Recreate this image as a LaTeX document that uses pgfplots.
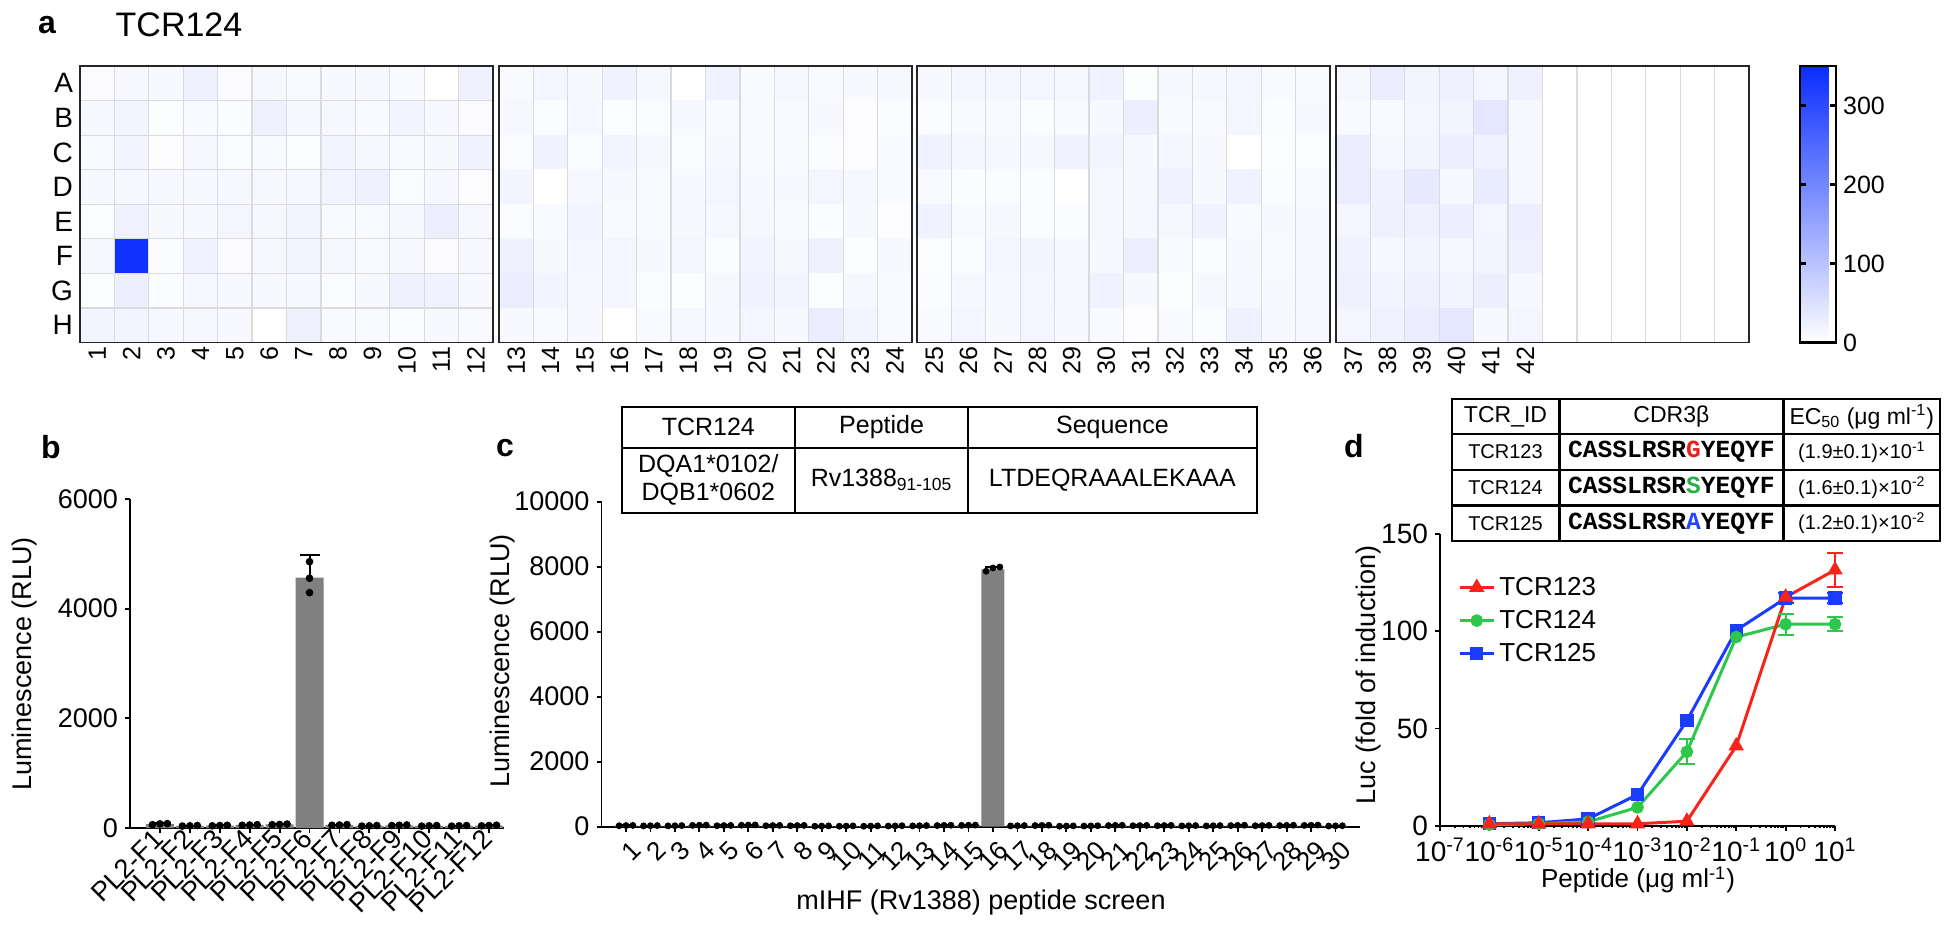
\documentclass[border=0pt]{standalone}
\usepackage{pgfplots}
\pgfplotsset{compat=1.18}
\usepackage{fontspec}
\setmainfont{Liberation Sans}
\newfontfamily\seqfont{Liberation Mono}
\newcommand{\fs}[1]{\fontsize{#1pt}{#1pt}\selectfont}
\definecolor{bargray}{RGB}{128,128,128}
\definecolor{tred}{RGB}{250,35,25}
\definecolor{tgreen}{RGB}{45,200,75}
\definecolor{tblue}{RGB}{25,60,255}
\definecolor{sred}{RGB}{235,30,30}
\definecolor{sgreen}{RGB}{40,175,70}
\definecolor{sblue}{RGB}{35,70,255}
\pgfplotsset{
  hm/.style={
    anchor=north west, scale only axis, width=206.5pt, height=138.25pt,
    y dir=reverse, ymin=0.5, ymax=8.5,
    colormap={tcr}{rgb255=(255,255,255) rgb255=(10,45,255)},
    point meta min=0, point meta max=350,
    axis on top, axis line style={line width=0.9pt, black!85},
    major tick length=0pt, minor tick length=0pt,
    minor ytick={1.5,2.5,...,7.5},
    grid=minor, minor grid style={black!14, line width=0.6pt},
    xticklabel style={rotate=90, anchor=east, font=\fs{12.5}, inner sep=2pt},
    yticklabel style={font=\fs{14}},
    /pgf/number format/assume math mode=true,
  },
  hmplot/.style={matrix plot*, point meta=explicit},
  bc/.style={
    anchor=south west, scale only axis,
    axis x line*=bottom, axis y line*=left, axis line style={line width=0.9pt},
    tick align=outside, major tick length=2.5pt, tick style={line width=0.9pt, black},
    ymin=0, scaled y ticks=false,
    yticklabel style={font=\fs{13.5}},
    /pgf/number format/assume math mode=true, /pgf/number format/1000 sep={},
  },
}
\begin{document}
\begin{tikzpicture}
\useasboundingbox (0,0) rectangle (975pt,-465pt);
% ---------------- panel a
\node[font=\fs{16}\bfseries] at (23.5pt,-12.5pt) {a};
\node[font=\fs{17}] at (89.5pt,-12.5pt) {TCR124};
\begin{axis}[hm, at={(40pt,-33pt)}, xmin=0.5, xmax=12.5, xtick={1,...,12},
  minor xtick={1.5,2.5,...,11.5}, ytick={1,...,8}, yticklabels={A,B,C,D,E,F,G,H}]
\addplot[hmplot, mesh/cols=12] coordinates {
(1,1)[6] (2,1)[13] (3,1)[10] (4,1)[23] (5,1)[6] (6,1)[13] (7,1)[8] (8,1)[10] (9,1)[13] (10,1)[8] (11,1)[0] (12,1)[23]
(1,2)[13] (2,2)[18] (3,2)[4] (4,2)[8] (5,2)[5] (6,2)[23] (7,2)[10] (8,2)[13] (9,2)[8] (10,2)[18] (11,2)[13] (12,2)[6]
(1,3)[8] (2,3)[18] (3,3)[3] (4,3)[13] (5,3)[5] (6,3)[8] (7,3)[4] (8,3)[18] (9,3)[13] (10,3)[8] (11,3)[10] (12,3)[21]
(1,4)[10] (2,4)[13] (3,4)[13] (4,4)[10] (5,4)[13] (6,4)[13] (7,4)[13] (8,4)[18] (9,4)[23] (10,4)[5] (11,4)[13] (12,4)[3]
(1,5)[4] (2,5)[21] (3,5)[10] (4,5)[10] (5,5)[16] (6,5)[13] (7,5)[18] (8,5)[8] (9,5)[8] (10,5)[13] (11,5)[26] (12,5)[13]
(1,6)[13] (2,6)[340] (3,6)[5] (4,6)[21] (5,6)[6] (6,6)[13] (7,6)[18] (8,6)[13] (9,6)[8] (10,6)[13] (11,6)[6] (12,6)[13]
(1,7)[4] (2,7)[26] (3,7)[5] (4,7)[13] (5,7)[10] (6,7)[13] (7,7)[10] (8,7)[5] (9,7)[10] (10,7)[23] (11,7)[21] (12,7)[10]
(1,8)[18] (2,8)[18] (3,8)[13] (4,8)[13] (5,8)[10] (6,8)[0] (7,8)[23] (8,8)[8] (9,8)[8] (10,8)[5] (11,8)[10] (12,8)[8]
};
\end{axis}
\begin{axis}[hm, at={(249.5pt,-33pt)}, xmin=12.5, xmax=24.5, xtick={13,...,24},
  minor xtick={13.5,14.5,...,23.5}, ytick=\empty]
\addplot[hmplot, mesh/cols=12] coordinates {
(13,1)[8] (14,1)[16] (15,1)[10] (16,1)[21] (17,1)[13] (18,1)[0] (19,1)[21] (20,1)[8] (21,1)[13] (22,1)[8] (23,1)[10] (24,1)[13]
(13,2)[13] (14,2)[5] (15,2)[13] (16,2)[4] (17,2)[5] (18,2)[10] (19,2)[8] (20,2)[8] (21,2)[8] (22,2)[10] (23,2)[3] (24,2)[5]
(13,3)[5] (14,3)[21] (15,3)[5] (16,3)[18] (17,3)[13] (18,3)[5] (19,3)[13] (20,3)[8] (21,3)[8] (22,3)[5] (23,3)[3] (24,3)[8]
(13,4)[18] (14,4)[0] (15,4)[13] (16,4)[10] (17,4)[8] (18,4)[10] (19,4)[16] (20,4)[10] (21,4)[10] (22,4)[16] (23,4)[13] (24,4)[8]
(13,5)[5] (14,5)[8] (15,5)[18] (16,5)[8] (17,5)[8] (18,5)[10] (19,5)[13] (20,5)[13] (21,5)[8] (22,5)[5] (23,5)[10] (24,5)[3]
(13,6)[23] (14,6)[10] (15,6)[16] (16,6)[16] (17,6)[10] (18,6)[16] (19,6)[5] (20,6)[18] (21,6)[10] (22,6)[23] (23,6)[4] (24,6)[10]
(13,7)[29] (14,7)[18] (15,7)[13] (16,7)[16] (17,7)[5] (18,7)[4] (19,7)[13] (20,7)[21] (21,7)[18] (22,7)[4] (23,7)[13] (24,7)[8]
(13,8)[10] (14,8)[8] (15,8)[10] (16,8)[0] (17,8)[8] (18,8)[13] (19,8)[10] (20,8)[16] (21,8)[10] (22,8)[29] (23,8)[18] (24,8)[8]
};
\end{axis}
\begin{axis}[hm, at={(458.5pt,-33pt)}, xmin=24.5, xmax=36.5, xtick={25,...,36},
  minor xtick={25.5,26.5,...,35.5}, ytick=\empty]
\addplot[hmplot, mesh/cols=12] coordinates {
(25,1)[10] (26,1)[16] (27,1)[16] (28,1)[16] (29,1)[13] (30,1)[21] (31,1)[4] (32,1)[10] (33,1)[13] (34,1)[16] (35,1)[8] (36,1)[8]
(25,2)[5] (26,2)[8] (27,2)[8] (28,2)[5] (29,2)[8] (30,2)[10] (31,2)[26] (32,2)[8] (33,2)[8] (34,2)[16] (35,2)[5] (36,2)[10]
(25,3)[21] (26,3)[16] (27,3)[13] (28,3)[13] (29,3)[21] (30,3)[18] (31,3)[10] (32,3)[16] (33,3)[13] (34,3)[0] (35,3)[4] (36,3)[4]
(25,4)[8] (26,4)[5] (27,4)[5] (28,4)[5] (29,4)[1] (30,4)[13] (31,4)[13] (32,4)[21] (33,4)[10] (34,4)[21] (35,4)[5] (36,4)[8]
(25,5)[21] (26,5)[8] (27,5)[13] (28,5)[5] (29,5)[5] (30,5)[13] (31,5)[13] (32,5)[13] (33,5)[21] (34,5)[8] (35,5)[10] (36,5)[10]
(25,6)[4] (26,6)[5] (27,6)[16] (28,6)[18] (29,6)[10] (30,6)[10] (31,6)[26] (32,6)[8] (33,6)[5] (34,6)[10] (35,6)[8] (36,6)[10]
(25,7)[5] (26,7)[13] (27,7)[13] (28,7)[16] (29,7)[13] (30,7)[21] (31,7)[10] (32,7)[4] (33,7)[13] (34,7)[13] (35,7)[10] (36,7)[13]
(25,8)[8] (26,8)[16] (27,8)[10] (28,8)[16] (29,8)[10] (30,8)[8] (31,8)[3] (32,8)[8] (33,8)[5] (34,8)[23] (35,8)[13] (36,8)[13]
};
\end{axis}
\begin{axis}[hm, at={(668pt,-33pt)}, xmin=36.5, xmax=48.5, xtick={37,...,42},
  minor xtick={37.5,38.5,...,47.5}, ytick=\empty,
  colorbar, colorbar style={
    at={(parent axis.north east)}, anchor=north west, xshift=17pt,
    width=18pt, scale only axis,
    ytick={0,100,200,300}, yticklabel style={font=\fs{12.5}},
    tick align=inside, ytick pos=both, yticklabel pos=right,
    major tick length=3pt, tick style={line width=1.2pt, black},
    axis line style={line width=1.4pt, black},
    /pgf/number format/assume math mode=true,
  }]
\addplot[hmplot, mesh/cols=6] coordinates {
(37,1)[13] (38,1)[29] (39,1)[18] (40,1)[23] (41,1)[16] (42,1)[23]
(37,2)[8] (38,2)[8] (39,2)[16] (40,2)[18] (41,2)[39] (42,2)[13]
(37,3)[29] (38,3)[13] (39,3)[18] (40,3)[26] (41,3)[21] (42,3)[13]
(37,4)[29] (38,4)[21] (39,4)[36] (40,4)[10] (41,4)[31] (42,4)[13]
(37,5)[16] (38,5)[23] (39,5)[23] (40,5)[26] (41,5)[16] (42,5)[26]
(37,6)[21] (38,6)[13] (39,6)[18] (40,6)[13] (41,6)[18] (42,6)[23]
(37,7)[23] (38,7)[18] (39,7)[23] (40,7)[18] (41,7)[26] (42,7)[13]
(37,8)[16] (38,8)[21] (39,8)[29] (40,8)[39] (41,8)[10] (42,8)[16]
};
\end{axis}
% ---------------- panel b
\node[font=\fs{16}\bfseries] at (25.5pt,-223.5pt) {b};
\node[rotate=90, font=\fs{13.5}] at (12.5pt,-332pt) {Luminescence (RLU)};
\begin{axis}[bc, at={(65pt,-414pt)}, width=187pt, height=164.5pt,
  xmin=0, xmax=12.5, ymax=6000, ytick={0,2000,4000,6000}, xtick={1,...,12},
  xticklabels={PL2-F1,PL2-F2,PL2-F3,PL2-F4,PL2-F5,PL2-F6,PL2-F7,PL2-F8,PL2-F9,PL2-F10,PL2-F11,PL2-F12},
  xticklabel style={rotate=45, anchor=east, font=\fs{13.5}, inner sep=1pt}]
\addplot[ybar, bar width=14pt, fill=bargray, draw=none,
  error bars/.cd, y dir=plus, y explicit,
  error bar style={line width=1pt, black},
  error mark options={rotate=90, mark size=5pt, line width=1pt, black}]
coordinates {(1,70)+-(0,15) (2,40)+-(0,5) (3,45)+-(0,5) (4,55)+-(0,8) (5,65)+-(0,8) (6,4568)+-(0,416)
(7,55)+-(0,6) (8,40)+-(0,5) (9,50)+-(0,6) (10,40)+-(0,5) (11,40)+-(0,5) (12,45)+-(0,6)};
\addplot[only marks, mark=*, mark size=1.7pt, black] coordinates {
(0.75,60)(1,75)(1.25,80) (1.75,35)(2,40)(2.25,45) (2.75,40)(3,45)(3.25,50) (3.75,50)(4,55)(4.25,60)
(4.75,60)(5,65)(5.25,72) (6,4857)(6,4293)(6,4555) (6.75,50)(7,55)(7.25,62) (7.75,35)(8,40)(8.25,45)
(8.75,45)(9,50)(9.25,56) (9.75,35)(10,40)(10.25,45) (10.75,35)(11,40)(11.25,45) (11.75,40)(12,45)(12.25,51)};
\end{axis}
% ---------------- panel c
\node[font=\fs{16}\bfseries] at (252.5pt,-224pt) {c};
\node[rotate=90, font=\fs{13.5}] at (251.5pt,-330.5pt) {Luminescence (RLU)};
\node[font=\fs{13.5}] at (490.5pt,-451.5pt) {mIHF (Rv1388) peptide screen};
\begin{axis}[bc, at={(300.75pt,-413.35pt)}, width=379.25pt, height=162.5pt,
  xmin=0, xmax=31, ymax=10000, ytick={0,2000,4000,6000,8000,10000}, xtick={1,...,30},
  xticklabel style={rotate=45, anchor=north east, font=\fs{13}, inner sep=1pt, yshift=-3pt}]
\addplot[ybar, bar width=11.5pt, fill=bargray, draw=none,
  error bars/.cd, y dir=plus, y explicit,
  error bar style={line width=1pt, black},
  error mark options={rotate=90, mark size=4pt, line width=1pt, black}]
coordinates {(1,35)+-(0,5) (2,30)+-(0,5) (3,30)+-(0,5) (4,45)+-(0,5) (5,35)+-(0,5) (6,50)+-(0,5)
(7,35)+-(0,5) (8,35)+-(0,5) (9,20)+-(0,5) (10,20)+-(0,5) (11,20)+-(0,5) (12,25)+-(0,5)
(13,30)+-(0,5) (14,40)+-(0,5) (15,45)+-(0,5) (16,7920)+-(0,70) (17,30)+-(0,5) (18,40)+-(0,5)
(19,20)+-(0,5) (20,25)+-(0,5) (21,40)+-(0,5) (22,35)+-(0,5) (23,35)+-(0,5) (24,30)+-(0,5)
(25,30)+-(0,5) (26,40)+-(0,5) (27,35)+-(0,5) (28,40)+-(0,5) (29,45)+-(0,5) (30,25)+-(0,5)};
\addplot[only marks, mark=*, mark size=1.5pt, black] coordinates {
(0.72,30)(1,35)(1.28,40) (1.72,25)(2,30)(2.28,35) (2.72,25)(3,30)(3.28,35) (3.72,40)(4,45)(4.28,50)
(4.72,30)(5,35)(5.28,40) (5.72,45)(6,50)(6.28,55) (6.72,30)(7,35)(7.28,40) (7.72,30)(8,35)(8.28,40)
(8.72,15)(9,20)(9.28,25) (9.72,15)(10,20)(10.28,25) (10.72,15)(11,20)(11.28,25) (11.72,20)(12,25)(12.28,30)
(12.72,25)(13,30)(13.28,35) (13.72,35)(14,40)(14.28,45) (14.72,40)(15,45)(15.28,50) (15.72,7860)(16,7960)(16.28,7990)
(16.72,25)(17,30)(17.28,35) (17.72,35)(18,40)(18.28,45) (18.72,15)(19,20)(19.28,25) (19.72,20)(20,25)(20.28,30)
(20.72,35)(21,40)(21.28,45) (21.72,30)(22,35)(22.28,40) (22.72,30)(23,35)(23.28,40) (23.72,25)(24,30)(24.28,35)
(24.72,25)(25,30)(25.28,35) (25.72,35)(26,40)(26.28,45) (26.72,30)(27,35)(27.28,40) (27.72,35)(28,40)(28.28,45)
(28.72,40)(29,45)(29.28,50) (29.72,20)(30,25)(30.28,30)};
\end{axis}
% c table
\draw[line width=1pt, fill=white] (310.9pt,-203.5pt) rectangle (628.25pt,-256.5pt);
\draw[line width=1pt] (310.9pt,-223.8pt) -- (628.25pt,-223.8pt);
\draw[line width=1pt] (397.4pt,-203.5pt) -- (397.4pt,-256.5pt);
\draw[line width=1pt] (484.2pt,-203.5pt) -- (484.2pt,-256.5pt);
\node[font=\fs{12.5}] at (354.15pt,-213.65pt) {TCR124};
\node[font=\fs{12.5}] at (440.8pt,-213.65pt) {Peptide};
\node[font=\fs{12.5}] at (556.2pt,-213.65pt) {Sequence};
\node[font=\fontsize{12.5pt}{14pt}\selectfont, align=center] at (354.15pt,-240.15pt) {DQA1*0102/\\DQB1*0602};
\node[font=\fs{12.5}] at (440.8pt,-240.15pt) {Rv1388\textsubscript{91-105}};
\node[font=\fs{12.5}] at (556.2pt,-240.15pt) {LTDEQRAAALEKAAA};
% ---------------- panel d
\node[font=\fs{16}\bfseries] at (677pt,-223pt) {d};
\node[rotate=90, font=\fs{13.5}] at (684pt,-337.5pt) {Luc (fold of induction)};
\node[font=\fs{13}] at (819pt,-440pt) {Peptide (μg ml\textsuperscript{-1})};
\begin{axis}[bc, at={(720pt,-412.85pt)}, width=197.5pt, height=145.85pt,
  xmode=log, log basis x=10, xmin=1e-7, xmax=10, ymax=150, ytick={0,50,100,150},
  xtick={1e-7,1e-6,1e-5,1e-4,1e-3,1e-2,1e-1,1,10},
  minor xtick={2e-7,3e-7,4e-7,5e-7,6e-7,7e-7,8e-7,9e-7,2e-6,3e-6,4e-6,5e-6,6e-6,7e-6,8e-6,9e-6,
    2e-5,3e-5,4e-5,5e-5,6e-5,7e-5,8e-5,9e-5,2e-4,3e-4,4e-4,5e-4,6e-4,7e-4,8e-4,9e-4,
    2e-3,3e-3,4e-3,5e-3,6e-3,7e-3,8e-3,9e-3,2e-2,3e-2,4e-2,5e-2,6e-2,7e-2,8e-2,9e-2,
    0.2,0.3,0.4,0.5,0.6,0.7,0.8,0.9,2,3,4,5,6,7,8,9},
  minor tick length=1.3pt, major tick length=2.5pt,
  xticklabel={10\textsuperscript{\pgfmathprintnumber[assume math mode=true]{\tick}}},
  xticklabel style={font=\fs{14}},
  yticklabel style={font=\fs{14}},
  clip=false,
  legend style={at={(0.04,0.875)}, anchor=north west, draw=none, fill=none, font=\fs{13}, row sep=2pt, inner sep=1pt},
  legend cell align=left, reverse legend]
\addplot[tblue, line width=1.5pt, mark=square*, mark size=2.6pt] coordinates {
(1e-6,1) (1e-5,1.5) (1e-4,3.5) (1e-3,16) (1e-2,54) (1e-1,100.5) (1,117) (10,117)};
\addlegendentry{TCR125}
\addplot[tgreen, line width=1.5pt, mark=*, mark size=2.4pt] coordinates {
(1e-6,0.5) (1e-5,1) (1e-4,2) (1e-3,9.4) (1e-2,38) (1e-1,97) (1,103.6) (10,103.6)};
\addlegendentry{TCR124}
\addplot[tred, line width=1.5pt, mark=triangle*, mark size=3pt] coordinates {
(1e-6,1) (1e-5,1) (1e-4,1) (1e-3,1) (1e-2,2.3) (1e-1,41) (1,117.5) (10,131.5)};
\addlegendentry{TCR123}
\addplot[forget plot, draw=none, tblue, error bars/.cd, y dir=both, y explicit,
  error bar style={line width=1pt}, error mark options={rotate=90, mark size=4pt, line width=1pt}]
  coordinates {(1,117)+-(0,2.5) (10,117)+-(0,2.5)};
\addplot[forget plot, draw=none, tgreen, error bars/.cd, y dir=both, y explicit,
  error bar style={line width=1pt}, error mark options={rotate=90, mark size=4pt, line width=1pt}]
  coordinates {(1e-2,38)+-(0,6.5) (1,103.6)+-(0,5.4) (10,103.6)+-(0,3.5)};
\addplot[forget plot, draw=none, tred, error bars/.cd, y dir=both, y explicit,
  error bar style={line width=1pt}, error mark options={rotate=90, mark size=4pt, line width=1pt}]
  coordinates {(10,131.5)+-(0,8.5)};
\end{axis}
% d table
\draw[line width=1.2pt, fill=white] (725.85pt,-199.5pt) rectangle (970pt,-270.5pt);
\draw[line width=1.2pt] (725.85pt,-217pt) -- (970pt,-217pt);
\draw[line width=1.2pt] (725.85pt,-235pt) -- (970pt,-235pt);
\draw[line width=1.2pt] (725.85pt,-252.85pt) -- (970pt,-252.85pt);
\draw[line width=1.2pt] (779.65pt,-199.5pt) -- (779.65pt,-270.5pt);
\draw[line width=1.2pt] (891.75pt,-199.5pt) -- (891.75pt,-270.5pt);
\node[font=\fs{11.5}] at (752.75pt,-208.25pt) {TCR\_ID};
\node[font=\fs{11.5}] at (835.7pt,-208.25pt) {CDR3β};
\node[font=\fs{11.5}] at (930.9pt,-208.25pt) {EC\textsubscript{50} (μg ml\textsuperscript{-1})};
\node[font=\fs{10}] at (752.75pt,-226pt) {TCR123};
\node[font=\fs{10}] at (752.75pt,-243.9pt) {TCR124};
\node[font=\fs{10}] at (752.75pt,-261.7pt) {TCR125};
\node[font=\seqfont\bfseries\fs{12.3}] at (835.7pt,-226pt) {CASSLRSR\textcolor{sred}{G}YEQYF};
\node[font=\seqfont\bfseries\fs{12.3}] at (835.7pt,-243.9pt) {CASSLRSR\textcolor{sgreen}{S}YEQYF};
\node[font=\seqfont\bfseries\fs{12.3}] at (835.7pt,-261.7pt) {CASSLRSR\textcolor{sblue}{A}YEQYF};
\node[font=\fs{10}] at (930.9pt,-226pt) {(1.9±0.1)×10\textsuperscript{-1}};
\node[font=\fs{10}] at (930.9pt,-243.9pt) {(1.6±0.1)×10\textsuperscript{-2}};
\node[font=\fs{10}] at (930.9pt,-261.7pt) {(1.2±0.1)×10\textsuperscript{-2}};
\end{tikzpicture}
\end{document}
